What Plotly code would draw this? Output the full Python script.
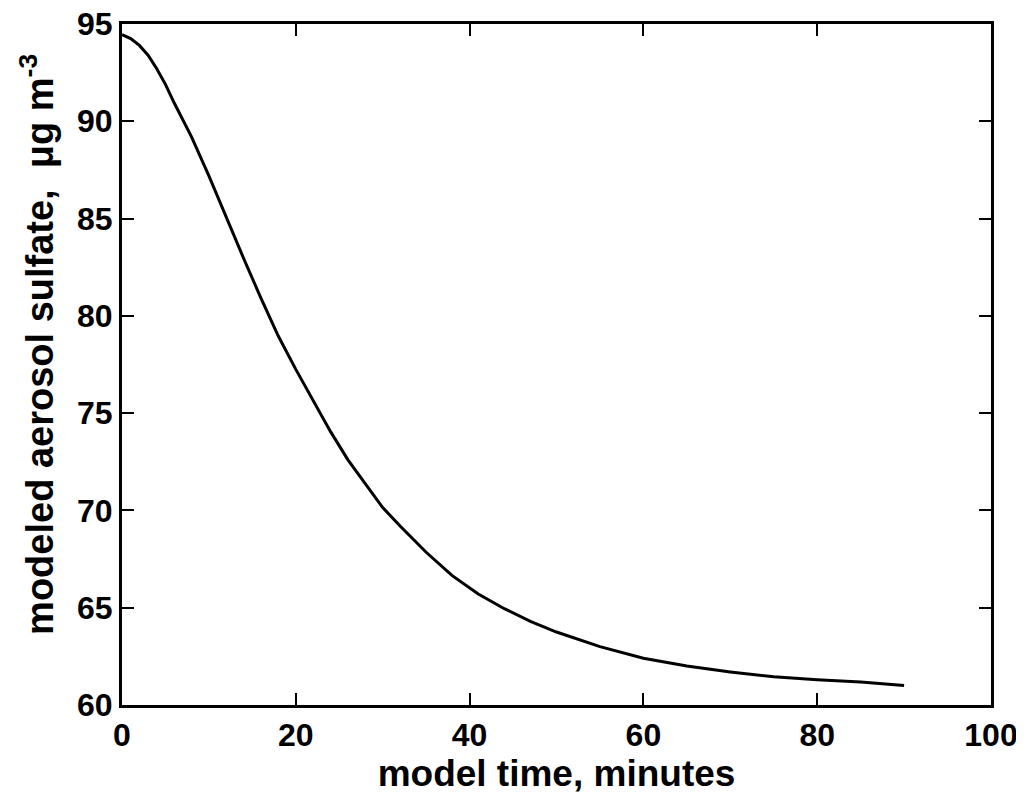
import plotly.graph_objects as go

time_min = [0, 1, 2, 3, 4, 5, 6, 8, 10, 12, 14, 16, 18, 20, 22, 24, 26, 28, 30, 32,
            35, 38, 41, 44, 47, 50, 55, 60, 65, 70, 75, 80, 85, 90]
sulfate = [94.45, 94.25, 93.9, 93.4, 92.7, 91.9, 90.95, 89.2, 87.2, 85.05, 82.95, 80.9,
           78.95, 77.25, 75.65, 74.05, 72.6, 71.35, 70.15, 69.2, 67.85, 66.65, 65.7, 64.95,
           64.3, 63.75, 63.0, 62.4, 62.0, 61.7, 61.45, 61.3, 61.18, 61.0]

x_ticks = [0, 20, 40, 60, 80, 100]
y_ticks = [60, 65, 70, 75, 80, 85, 90, 95]

FONT = "Arial, Liberation Sans, sans-serif"

fig = go.Figure()
fig.add_trace(go.Scatter(x=time_min, y=sulfate, mode="lines",
                         line=dict(color="black", width=3), showlegend=False))

axis_common = dict(
    showline=True, linecolor="black", linewidth=3, mirror="ticks",
    ticks="inside", ticklen=12, tickwidth=2, tickcolor="black",
    showgrid=False, zeroline=False, automargin=False,
    ticklabeloverflow="allow",
    tickfont=dict(family=FONT, size=32, color="black", weight="bold"),
)

fig.update_xaxes(range=[0, 100], tickvals=x_ticks,
                 title=dict(text="model time, minutes",
                            font=dict(family=FONT, size=37, color="black", weight="bold"),
                            standoff=4),
                 **axis_common)
fig.update_yaxes(range=[60, 95], tickvals=y_ticks, **axis_common)

fig.add_annotation(
    text="modeled aerosol sulfate,  \u03bcg m<sup>-3</sup>",
    xref="paper", yref="paper", x=-0.098, y=0.53,
    xanchor="center", yanchor="middle", textangle=-90, showarrow=False,
    font=dict(family=FONT, size=38, color="black", weight="bold"),
)

fig.update_layout(
    template="none",
    width=1016, height=794,
    margin=dict(l=114, r=33, t=16, b=97, autoexpand=False),
    paper_bgcolor="white", plot_bgcolor="white",
)

fig.write_html("out.html")
